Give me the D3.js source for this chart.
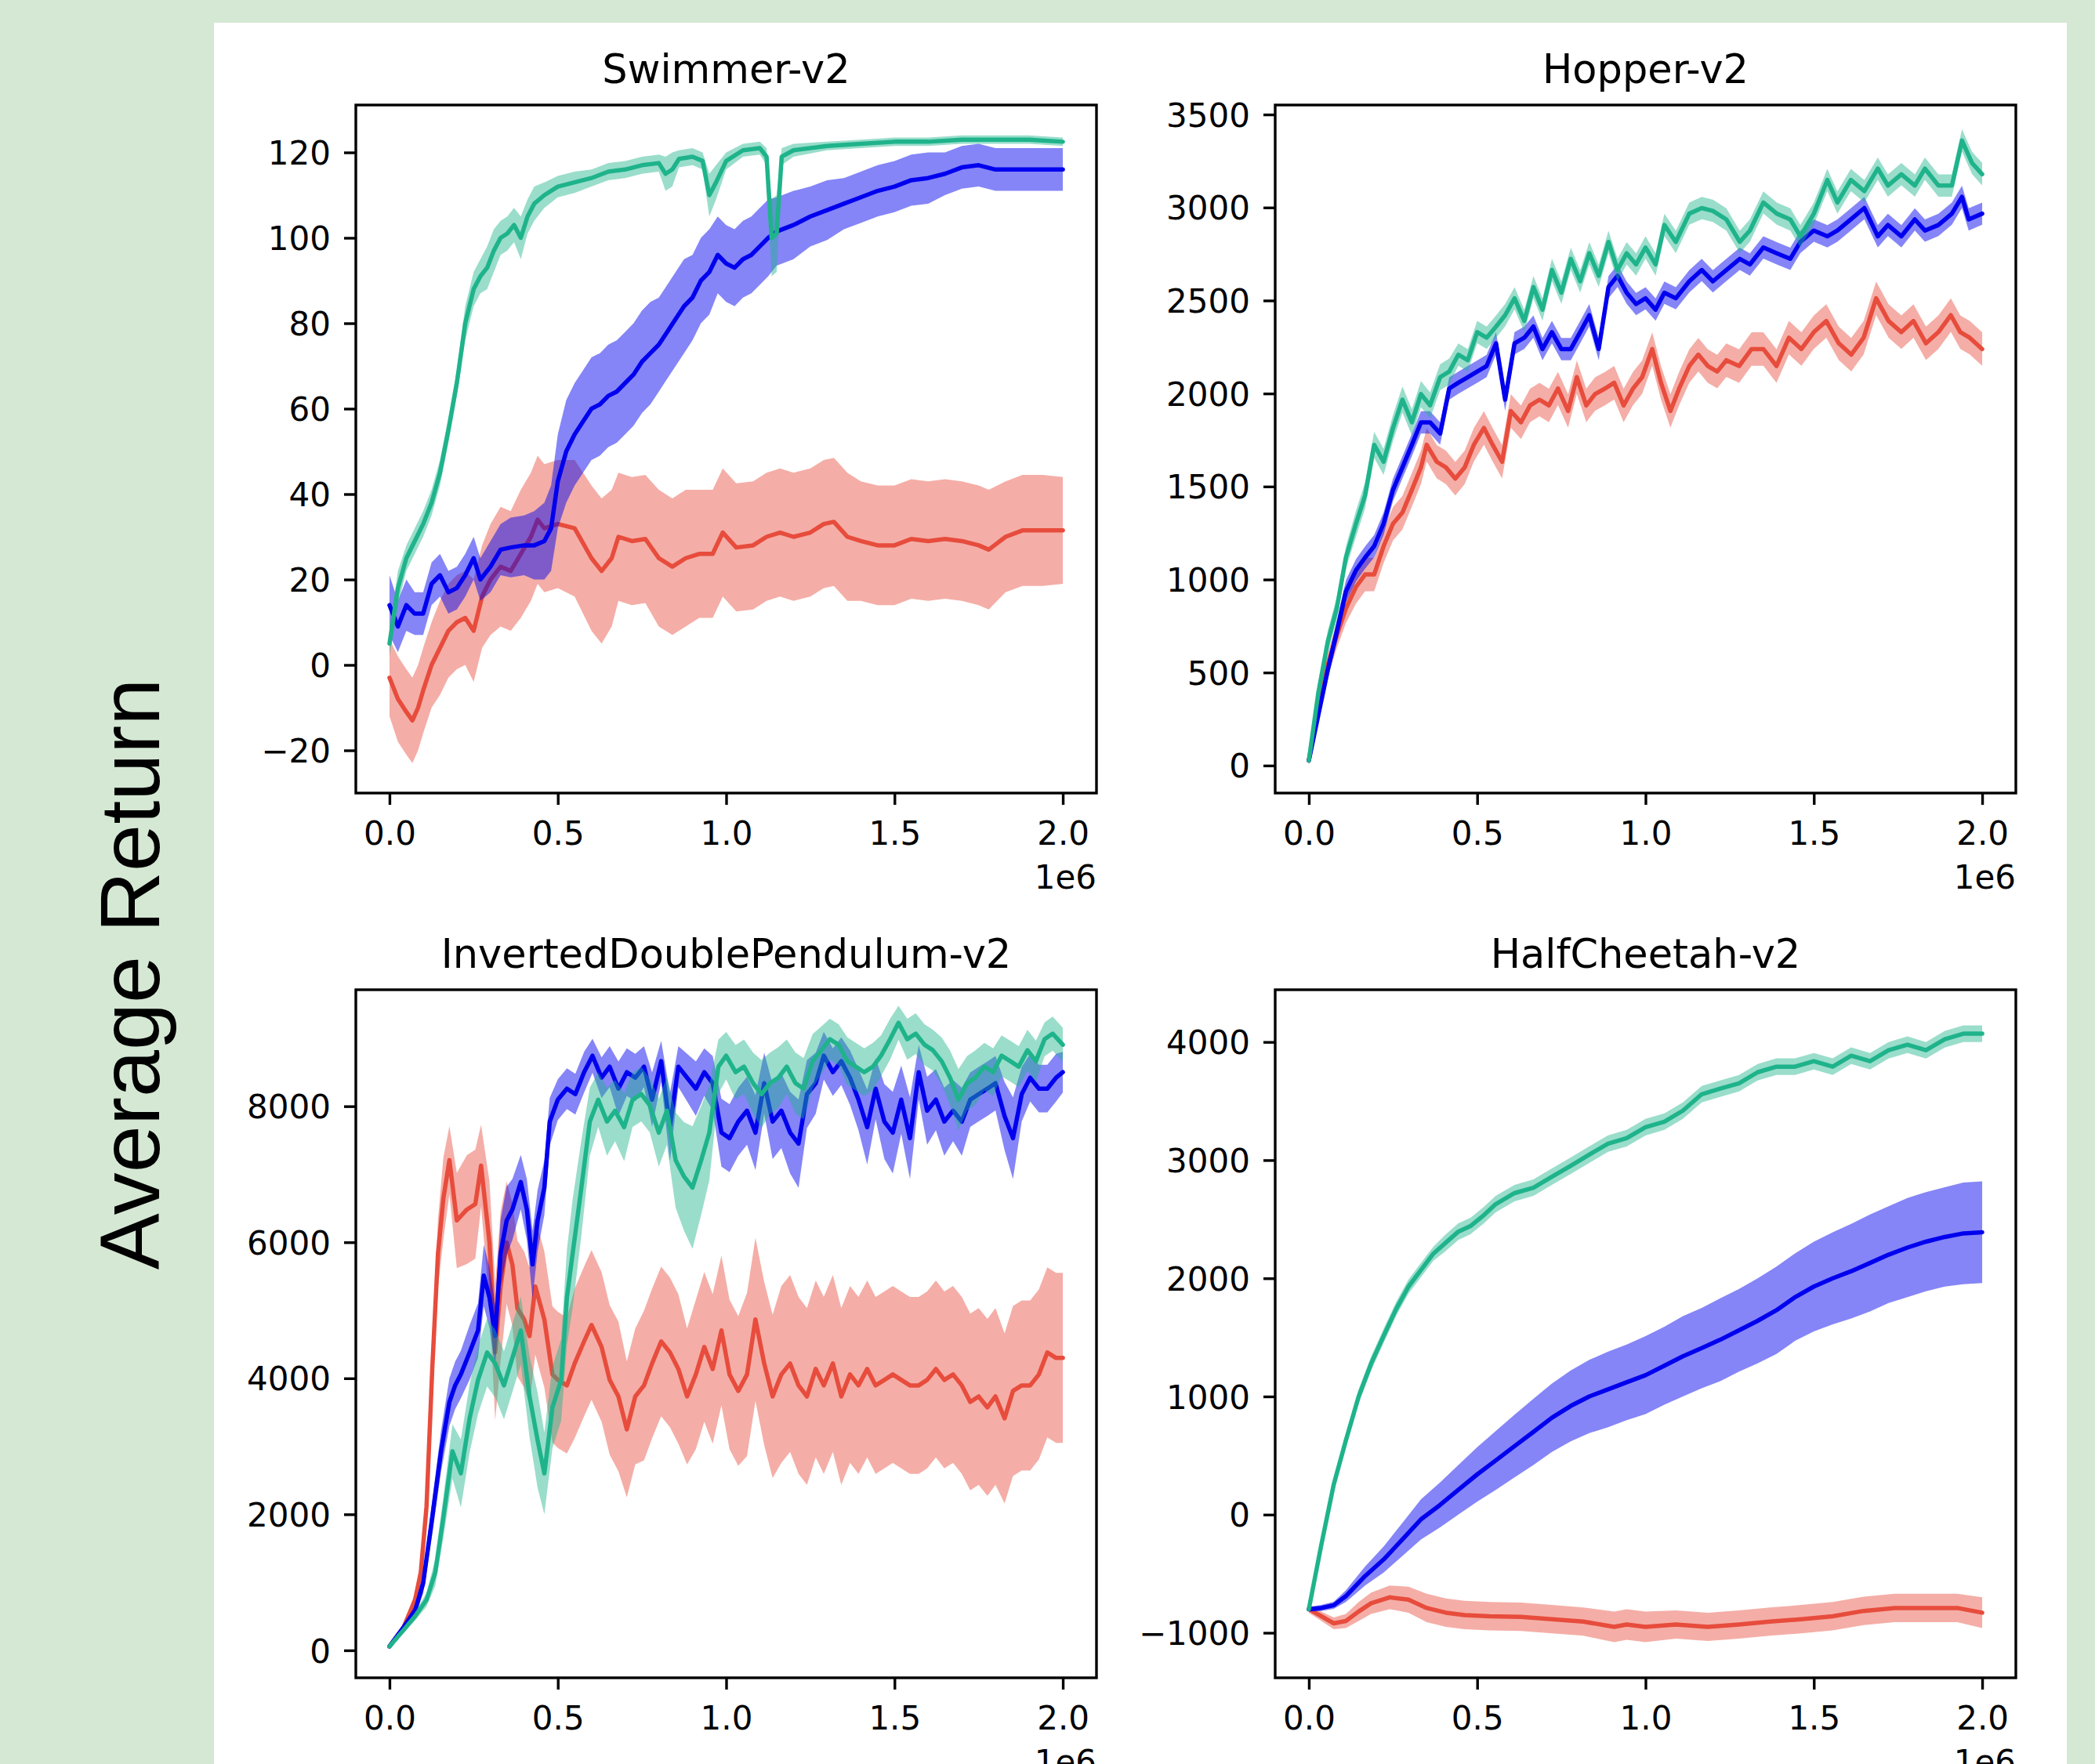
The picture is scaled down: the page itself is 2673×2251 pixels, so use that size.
<!DOCTYPE html>
<html><head><meta charset="utf-8">
<script src="https://cdn.jsdelivr.net/npm/d3@7"></script>
<style>html,body{margin:0;padding:0;background:#d5e8d4;}svg{display:block}</style>
</head><body><svg id="chart" width="2673" height="2251"></svg>
<script>
// ---------- DATA (x in units of 1e6 steps, [x, mean, half-width]) ----------
const titles = ["Swimmer-v2", "Hopper-v2", "InvertedDoublePendulum-v2", "HalfCheetah-v2"];
const xTicks = [0, 0.5, 1.0, 1.5, 2.0];
const xTickLabels = ["0.0", "0.5", "1.0", "1.5", "2.0"];
const swimmerTicks = [-20, 0, 20, 40, 60, 80, 100, 120];
const swimmerTickLabels = ["\u221220", "0", "20", "40", "60", "80", "100", "120"];
const hopperTicks = [0, 500, 1000, 1500, 2000, 2500, 3000, 3500];
const hopperTickLabels = ["0", "500", "1000", "1500", "2000", "2500", "3000", "3500"];
const idpTicks = [0, 2000, 4000, 6000, 8000];
const idpTickLabels = ["0", "2000", "4000", "6000", "8000"];
const cheetahTicks = [-1000, 0, 1000, 2000, 3000, 4000];
const cheetahTickLabels = ["\u22121000", "0", "1000", "2000", "3000", "4000"];

const swimmerGreen = [[0,5,3],[0.025,18,4],[0.05,25,3],[0.075,29,3],[0.1,33,3],[0.125,38,3],[0.15,45,3],[0.175,55,3],[0.2,66,3],[0.225,80,4],[0.25,88,4],[0.27,91,4],[0.29,93,5],[0.31,97,5],[0.33,100,4],[0.35,101,4],[0.37,103,4],[0.39,100,5],[0.41,105,4],[0.43,108,4],[0.46,110,3],[0.5,112,2.5],[0.55,113,2.5],[0.6,114,2],[0.65,115.5,2],[0.7,116,2],[0.75,117,2],[0.8,117.5,2],[0.82,115,4],[0.84,116,4],[0.86,118.5,2],[0.9,119,2],[0.93,118,2],[0.95,110,5],[0.97,113,4],[1.0,118,2],[1.05,120.5,1.5],[1.1,121,1.5],[1.12,119,2],[1.135,100,9],[1.15,101,9],[1.165,119,2],[1.2,120.5,1.5],[1.3,121.5,1],[1.4,122,1],[1.5,122.5,1],[1.6,122.5,1],[1.7,123,1],[1.8,123,1],[1.9,123,1],[2.0,122.5,1]];
const swimmerBlue = [[0,14,7],[0.025,9,6],[0.05,14,6],[0.075,12,5],[0.1,12,5],[0.125,19,5],[0.15,21,5],[0.175,17,5],[0.2,18,5],[0.225,21,5],[0.25,25,5],[0.27,20,5],[0.3,23,6],[0.33,27,6],[0.36,27.5,7],[0.4,28,7],[0.43,28,8],[0.46,29,9],[0.48,32,10],[0.5,43,11],[0.525,50,12],[0.55,54,12],[0.575,57,12],[0.6,60,12],[0.625,61,12],[0.65,63,12],[0.675,64,12],[0.7,66,12],[0.725,68,12],[0.75,71,12],[0.775,73,12],[0.8,75,11],[0.825,78,11],[0.85,81,11],[0.875,84,11],[0.9,86,10],[0.925,90,10],[0.95,92,10],[0.975,96,9],[1.0,94,9],[1.025,93,9],[1.05,95,9],[1.075,96,9],[1.1,98,9],[1.125,100,9],[1.15,101.5,8],[1.2,103,8],[1.25,105,7],[1.3,106.5,7],[1.35,108,6],[1.4,109.5,6],[1.45,111,6],[1.5,112,6],[1.55,113.5,6],[1.6,114,6],[1.65,115,5],[1.7,116.5,5],[1.75,117,5],[1.8,116,5],[1.85,116,5],[1.9,116,5],[1.95,116,5],[2.0,116,5]];
const swimmerRed = [[0,-3,9],[0.025,-8,10],[0.05,-11,10],[0.068,-13,10],[0.085,-10,10],[0.1,-6,10],[0.125,0,10],[0.15,4,11],[0.175,8,11],[0.2,10,11],[0.225,11,11],[0.25,8,12],[0.275,16,12],[0.3,20,13],[0.33,23,14],[0.36,22,14],[0.39,26,15],[0.42,30,15],[0.44,34,15],[0.46,32,15],[0.5,33,15],[0.55,32,16],[0.6,25,17],[0.63,22,17],[0.66,25,16],[0.68,30,15],[0.72,29,15],[0.76,29.5,15],[0.8,25,16],[0.84,23,16],[0.88,25,16],[0.92,26,15],[0.96,26,15],[0.99,31,15],[1.03,27.5,15],[1.08,28,15],[1.12,30,15],[1.16,31,15],[1.2,30,15],[1.25,31,15],[1.29,33,15],[1.32,33.5,15],[1.36,30,15],[1.4,29,14],[1.45,28,14],[1.5,28,14],[1.55,29.5,14],[1.6,29,14],[1.65,29.5,14],[1.7,29,14],[1.75,28,14],[1.78,27,14],[1.83,30,13],[1.88,31.5,13],[1.94,31.5,13],[2.0,31.5,12.5]];

const hopperGreen = [[0,27,20],[0.028,390,50],[0.056,664,60],[0.083,845,60],[0.11,1118,60],[0.14,1300,70],[0.167,1452,70],[0.194,1724,70],[0.222,1633,70],[0.25,1815,70],[0.278,1967,70],[0.306,1845,70],[0.333,1997,70],[0.36,1936,70],[0.39,2088,70],[0.417,2118,70],[0.444,2209,60],[0.472,2179,60],[0.5,2330,60],[0.528,2300,60],[0.556,2360,60],[0.583,2421,60],[0.611,2512,60],[0.64,2390,60],[0.667,2572,60],[0.694,2451,60],[0.722,2664,60],[0.75,2542,60],[0.778,2724,60],[0.806,2603,60],[0.833,2754,60],[0.861,2633,60],[0.89,2815,60],[0.917,2664,60],[0.944,2754,60],[0.972,2694,60],[1.0,2785,60],[1.03,2694,60],[1.056,2906,60],[1.09,2815,60],[1.13,2967,60],[1.167,2997,60],[1.2,2982,60],[1.24,2936,60],[1.28,2815,60],[1.31,2876,60],[1.35,3027,60],[1.39,2967,60],[1.43,2936,60],[1.46,2845,60],[1.5,2967,60],[1.54,3148,60],[1.57,3027,60],[1.61,3148,60],[1.65,3088,60],[1.69,3209,60],[1.72,3118,60],[1.76,3179,60],[1.8,3118,60],[1.83,3209,60],[1.87,3118,60],[1.91,3118,60],[1.94,3360,60],[1.97,3239,60],[2.0,3179,60]];
const hopperBlue = [[0,27,20],[0.028,270,40],[0.056,512,50],[0.083,720,60],[0.11,936,60],[0.14,1050,60],[0.167,1118,60],[0.194,1179,60],[0.222,1300,60],[0.25,1482,60],[0.278,1603,60],[0.306,1724,60],[0.333,1845,60],[0.36,1845,60],[0.39,1785,60],[0.417,2027,60],[0.444,2058,60],[0.472,2088,60],[0.5,2118,60],[0.528,2148,60],[0.556,2270,60],[0.583,1967,60],[0.611,2270,60],[0.64,2300,60],[0.667,2360,60],[0.694,2239,60],[0.722,2330,60],[0.75,2239,60],[0.778,2239,60],[0.806,2330,60],[0.833,2421,60],[0.861,2239,60],[0.89,2572,60],[0.917,2633,60],[0.944,2542,60],[0.972,2481,60],[1.0,2512,60],[1.03,2451,60],[1.056,2542,60],[1.09,2512,60],[1.13,2603,60],[1.167,2664,60],[1.2,2603,60],[1.24,2664,60],[1.28,2724,60],[1.31,2694,60],[1.35,2785,60],[1.39,2754,60],[1.43,2724,60],[1.46,2815,60],[1.5,2876,60],[1.54,2845,60],[1.57,2876,60],[1.61,2936,60],[1.65,2997,60],[1.69,2845,60],[1.72,2906,60],[1.76,2845,60],[1.8,2936,60],[1.83,2876,60],[1.87,2906,60],[1.91,2967,60],[1.94,3057,60],[1.96,2936,60],[2.0,2967,60]];
const hopperRed = [[0,27,20],[0.028,300,50],[0.056,542,60],[0.083,700,70],[0.11,845,80],[0.14,960,90],[0.167,1027,90],[0.194,1027,90],[0.222,1179,90],[0.25,1300,90],[0.278,1360,90],[0.306,1482,90],[0.333,1603,90],[0.35,1724,90],[0.38,1633,90],[0.407,1603,90],[0.435,1542,90],[0.463,1603,90],[0.49,1724,90],[0.52,1815,90],[0.546,1724,90],[0.574,1633,90],[0.6,1906,90],[0.63,1845,90],[0.657,1936,90],[0.685,1967,90],[0.713,1936,90],[0.74,2027,90],[0.77,1906,90],[0.796,2088,90],[0.824,1936,90],[0.85,1997,90],[0.88,2027,90],[0.907,2058,90],[0.935,1936,90],[0.963,2027,90],[0.99,2088,90],[1.02,2239,90],[1.046,2058,90],[1.074,1906,90],[1.1,2027,90],[1.13,2148,90],[1.157,2209,90],[1.185,2148,90],[1.213,2118,90],[1.24,2179,90],[1.278,2148,90],[1.315,2239,90],[1.35,2239,90],[1.389,2148,90],[1.426,2300,90],[1.463,2239,90],[1.5,2330,90],[1.537,2390,90],[1.574,2270,90],[1.611,2209,90],[1.648,2300,90],[1.685,2512,90],[1.722,2390,90],[1.76,2330,90],[1.796,2390,90],[1.833,2270,90],[1.87,2330,90],[1.907,2421,90],[1.935,2330,90],[1.963,2300,90],[2.0,2239,90]];

const idpRed = [[0,57,30],[0.042,340,50],[0.076,743,100],[0.093,1148,150],[0.11,2117,250],[0.127,4137,400],[0.144,5834,500],[0.16,6643,600],[0.178,7208,500],[0.2,6320,700],[0.23,6481,800],[0.255,6562,800],[0.272,7127,600],[0.297,5996,900],[0.314,4380,1000],[0.33,5350,1100],[0.348,5996,900],[0.365,5673,900],[0.38,5026,1000],[0.4,4865,1000],[0.416,4622,1000],[0.433,5350,1000],[0.46,4865,1000],[0.484,4057,1000],[0.5,3976,1000],[0.527,3895,1000],[0.55,4218,1100],[0.578,4542,1100],[0.6,4784,1100],[0.63,4461,1100],[0.654,3976,1100],[0.68,3733,1100],[0.705,3249,1000],[0.73,3733,1000],[0.756,3895,1100],[0.78,4218,1100],[0.807,4542,1100],[0.833,4380,1100],[0.858,4137,1100],[0.884,3733,1000],[0.91,4057,1100],[0.935,4461,1100],[0.96,4137,1100],[0.986,4703,1100],[1.01,4057,1100],[1.036,3814,1100],[1.062,4057,1200],[1.087,4865,1200],[1.113,4218,1200],[1.138,3733,1200],[1.164,4057,1300],[1.19,4218,1300],[1.215,3895,1300],[1.24,3733,1300],[1.266,4137,1300],[1.29,3895,1300],[1.317,4218,1300],[1.342,3733,1300],[1.368,4057,1300],[1.393,3895,1300],[1.419,4137,1300],[1.444,3895,1300],[1.47,3976,1300],[1.495,4057,1300],[1.52,3976,1300],[1.546,3895,1300],[1.572,3895,1300],[1.597,3976,1300],[1.623,4137,1300],[1.648,3976,1300],[1.674,4057,1300],[1.7,3895,1300],[1.725,3652,1300],[1.75,3733,1300],[1.776,3572,1300],[1.8,3733,1300],[1.827,3410,1250],[1.852,3814,1250],[1.878,3895,1250],[1.903,3895,1250],[1.929,4057,1250],[1.954,4380,1250],[1.98,4299,1250],[2.0,4299,1250]];
const idpBlue = [[0,57,30],[0.042,340,50],[0.076,582,80],[0.1,986,150],[0.127,1956,250],[0.153,2925,300],[0.178,3652,350],[0.195,3895,350],[0.212,4057,350],[0.238,4380,400],[0.263,4703,400],[0.28,5511,450],[0.297,5188,450],[0.314,4622,450],[0.33,5834,500],[0.348,6319,500],[0.365,6481,450],[0.39,6885,400],[0.408,6481,450],[0.425,5673,500],[0.44,6319,450],[0.46,6804,400],[0.476,7774,350],[0.5,8097,300],[0.527,8259,300],[0.552,8178,300],[0.578,8501,300],[0.603,8743,250],[0.63,8420,300],[0.654,8582,300],[0.68,8259,400],[0.705,8501,350],[0.73,8420,350],[0.756,8582,300],[0.78,8097,400],[0.807,8663,300],[0.833,7693,500],[0.858,8582,300],[0.884,8420,350],[0.91,8259,400],[0.935,8501,350],[0.96,8339,400],[0.986,7612,500],[1.01,7531,500],[1.036,7774,500],[1.062,7935,500],[1.087,7612,550],[1.113,8339,450],[1.138,7774,550],[1.164,7935,550],[1.19,7612,600],[1.215,7450,650],[1.24,8178,500],[1.266,8339,450],[1.29,8743,350],[1.317,8501,350],[1.342,8663,350],[1.368,8420,400],[1.393,8097,450],[1.419,7693,550],[1.444,8259,450],[1.47,7774,550],[1.495,7612,600],[1.52,8097,500],[1.546,7531,600],[1.572,8501,400],[1.597,7935,500],[1.623,8097,450],[1.648,7774,500],[1.674,7935,450],[1.7,7774,500],[1.725,8097,400],[1.75,8178,400],[1.776,8259,400],[1.8,8339,400],[1.827,7855,500],[1.852,7531,600],[1.878,8178,400],[1.903,8420,350],[1.929,8259,350],[1.954,8259,350],[1.98,8420,350],[2.0,8501,300]];
const idpGreen = [[0,57,30],[0.042,299,40],[0.076,501,60],[0.11,743,100],[0.136,1148,200],[0.16,1956,300],[0.187,2925,400],[0.212,2602,500],[0.238,3410,500],[0.263,3976,500],[0.29,4380,500],[0.314,4218,500],[0.34,3895,500],[0.365,4299,500],[0.39,4703,500],[0.416,3733,600],[0.44,3087,700],[0.46,2602,600],[0.484,3572,600],[0.51,3976,600],[0.527,5188,700],[0.544,5834,800],[0.57,6804,700],[0.595,7774,500],[0.62,8097,400],[0.646,7774,500],[0.67,7935,450],[0.697,7693,500],[0.722,8097,400],[0.748,8178,400],[0.773,8016,400],[0.8,7612,500],[0.824,7935,500],[0.85,7208,700],[0.875,6966,800],[0.9,6804,900],[0.926,7208,800],[0.95,7612,700],[0.977,8582,400],[1.0,8743,350],[1.028,8501,400],[1.053,8582,400],[1.08,8339,450],[1.105,8178,500],[1.13,8339,450],[1.155,8420,450],[1.18,8582,400],[1.206,8339,450],[1.23,8259,450],[1.257,8663,400],[1.283,8824,350],[1.308,8986,300],[1.334,8905,300],[1.36,8663,350],[1.385,8582,350],[1.41,8501,350],[1.436,8582,350],[1.46,8743,300],[1.487,8986,300],[1.512,9228,250],[1.538,8986,300],[1.563,9067,300],[1.589,8905,300],[1.614,8824,300],[1.64,8663,350],[1.665,8420,400],[1.69,8097,450],[1.716,8339,400],[1.74,8420,400],[1.767,8582,350],[1.793,8501,350],[1.818,8743,300],[1.844,8663,300],[1.869,8582,300],[1.895,8824,300],[1.92,8663,300],[1.946,8986,250],[1.97,9067,250],[2.0,8905,250]];

const cheetahGreen = [[0,-800,30],[0.037,-256,50],[0.074,256,60],[0.11,628,60],[0.148,1000,60],[0.185,1279,60],[0.222,1512,60],[0.26,1744,60],[0.296,1930,60],[0.333,2070,60],[0.37,2209,60],[0.407,2302,70],[0.444,2395,70],[0.48,2442,70],[0.52,2535,70],[0.555,2628,70],[0.611,2721,70],[0.667,2767,70],[0.722,2860,70],[0.778,2953,70],[0.833,3047,70],[0.889,3140,70],[0.944,3186,70],[1.0,3279,70],[1.056,3326,70],[1.111,3419,70],[1.167,3558,70],[1.222,3605,70],[1.278,3651,70],[1.333,3744,70],[1.389,3791,70],[1.444,3791,70],[1.5,3837,70],[1.556,3791,70],[1.611,3884,70],[1.667,3837,70],[1.722,3930,70],[1.778,3977,70],[1.833,3930,70],[1.889,4023,70],[1.944,4070,70],[2.0,4070,70]];
const cheetahBlue = [[0,-800,20],[0.037,-790,25],[0.074,-767,30],[0.11,-690,50],[0.167,-520,80],[0.222,-380,110],[0.278,-210,140],[0.333,-40,170],[0.389,80,190],[0.444,210,210],[0.5,340,230],[0.556,460,250],[0.611,580,265],[0.667,700,280],[0.722,820,290],[0.778,920,300],[0.833,1000,310],[0.889,1060,320],[0.944,1120,320],[1.0,1180,330],[1.056,1260,330],[1.111,1340,340],[1.167,1410,340],[1.222,1480,350],[1.278,1560,350],[1.333,1640,360],[1.389,1730,370],[1.444,1840,370],[1.5,1930,380],[1.556,2000,390],[1.611,2060,400],[1.667,2130,410],[1.722,2200,410],[1.778,2260,420],[1.833,2310,420],[1.889,2350,420],[1.944,2380,430],[2.0,2390,430]];
const cheetahRed = [[0,-800,30],[0.037,-860,40],[0.074,-920,50],[0.11,-900,60],[0.148,-820,80],[0.185,-750,90],[0.24,-700,100],[0.296,-720,110],[0.35,-790,120],[0.407,-830,120],[0.463,-850,120],[0.537,-860,120],[0.63,-865,120],[0.722,-885,120],[0.815,-905,120],[0.907,-950,130],[0.944,-930,130],[1.0,-950,130],[1.09,-930,120],[1.185,-950,120],[1.278,-930,120],[1.37,-905,120],[1.463,-885,120],[1.556,-860,120],[1.648,-815,120],[1.74,-790,120],[1.833,-790,120],[1.926,-790,120],[2.0,-830,130]];

// ---------- CHART ----------
const RED = "#e74c3c", BLUE = "#0000ee", GREEN = "#1fb38b";
const panels = [
  {title: titles[0], yDomain: [-30, 131.1], ticks: swimmerTicks, labels: swimmerTickLabels, series: [[swimmerRed, RED], [swimmerBlue, BLUE], [swimmerGreen, GREEN]]},
  {title: titles[1], yDomain: [-148, 3551], ticks: hopperTicks, labels: hopperTickLabels, series: [[hopperRed, RED], [hopperBlue, BLUE], [hopperGreen, GREEN]]},
  {title: titles[2], yDomain: [-404, 9713], ticks: idpTicks, labels: idpTickLabels, series: [[idpRed, RED], [idpBlue, BLUE], [idpGreen, GREEN]]},
  {title: titles[3], yDomain: [-1381, 4442], ticks: cheetahTicks, labels: cheetahTickLabels, series: [[cheetahRed, RED], [cheetahBlue, BLUE], [cheetahGreen, GREEN]]}
];
const origins = [[454, 134], [1627, 134], [454, 1263], [1627, 1263]];
const W = 945, H = 878;
const FONT = "'DejaVu Sans', sans-serif";

const svg = d3.select("#chart");
svg.append("rect").attr("x", 273).attr("y", 29).attr("width", 2364).attr("height", 2222).attr("fill", "#ffffff");

panels.forEach((p, i) => {
  const [ox, oy] = origins[i];
  const g = svg.append("g").attr("transform", `translate(${ox},${oy})`);
  const x = d3.scaleLinear().domain([-0.1, 2.1]).range([0, W]);
  const y = d3.scaleLinear().domain(p.yDomain).range([H, 0]);
  g.append("clipPath").attr("id", "clip" + i).append("rect").attr("width", W).attr("height", H);
  const plot = g.append("g").attr("clip-path", `url(#clip${i})`);
  const area = d3.area().x(d => x(d[0])).y0(d => y(d[1] - d[2])).y1(d => y(d[1] + d[2]));
  const line = d3.line().x(d => x(d[0])).y(d => y(d[1]));
  p.series.forEach(([data, color]) => {
    plot.append("path").datum(data).attr("d", area).attr("fill", color).attr("fill-opacity", color === BLUE ? 0.48 : 0.45).attr("stroke", "none");
    plot.append("path").datum(data).attr("d", line).attr("fill", "none").attr("stroke", color)
      .attr("stroke-width", 5.5).attr("stroke-linejoin", "round").attr("stroke-linecap", "round");
  });

  const yAxis = g.append("g").call(d3.axisLeft(y).tickValues(p.ticks).tickFormat((d, j) => p.labels[j]).tickSize(15).tickPadding(17));
  const xAxis = g.append("g").attr("transform", `translate(0,${H})`)
    .call(d3.axisBottom(x).tickValues(xTicks).tickFormat((d, j) => xTickLabels[j]).tickSize(15).tickPadding(15));
  [yAxis, xAxis].forEach(a => {
    a.select(".domain").remove();
    a.selectAll(".tick line").attr("stroke", "#000").attr("stroke-width", 3.4);
    a.selectAll(".tick text").attr("fill", "#000").style("font-family", FONT).style("font-size", "42px");
  });
  yAxis.selectAll(".tick text").attr("dy", "0.36em");
  xAxis.selectAll(".tick text").attr("dy", "0.86em");

  g.append("rect").attr("width", W).attr("height", H).attr("fill", "none").attr("stroke", "#000").attr("stroke-width", 3.4);

  g.append("text").attr("x", W).attr("y", H + 122).attr("text-anchor", "end")
    .style("font-family", FONT).style("font-size", "42px").attr("fill", "#000").text("1e6");
  g.append("text").attr("x", W / 2).attr("y", -28).attr("text-anchor", "middle")
    .style("font-family", FONT).style("font-size", "51px").attr("fill", "#000").text(p.title);
});

svg.append("text").attr("transform", "translate(203,1243) rotate(-90)").attr("text-anchor", "middle")
  .style("font-family", "'Liberation Sans', Arial, sans-serif").style("font-size", "108px").attr("fill", "#000")
  .text("Average Return");
</script></body></html>
